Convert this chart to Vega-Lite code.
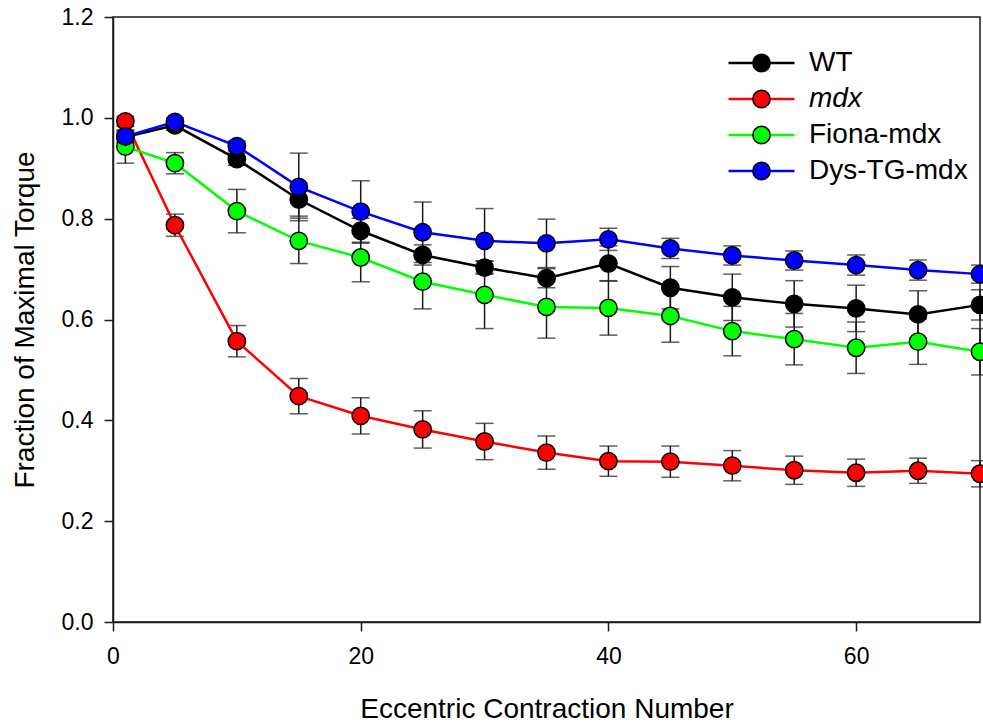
{
  "$schema": "https://vega.github.io/schema/vega-lite/v6.json",
  "width": 867,
  "height": 605,
  "autosize": {"type": "none"},
  "padding": {"left": 113, "top": 17, "right": 3, "bottom": 103},
  "background": "white",
  "config": {
    "view": {"stroke": "#1a1a1a", "strokeWidth": 1.5},
    "font": "Liberation Sans",
    "axis": {"grid": false, "domainColor": "#1a1a1a", "domainWidth": 1.5, "tickColor": "#1a1a1a", "tickWidth": 1.5, "labelColor": "black", "titleColor": "black", "labelFont": "Liberation Sans", "titleFont": "Liberation Sans", "titleFontWeight": "normal"}
  },
  "data": {"values": [
    {"x": 1, "g": "WT", "y": 0.962, "e": 0.01},
    {"x": 5, "g": "WT", "y": 0.985, "e": 0.01},
    {"x": 10, "g": "WT", "y": 0.918, "e": 0.012},
    {"x": 15, "g": "WT", "y": 0.838, "e": 0.033},
    {"x": 20, "g": "WT", "y": 0.776, "e": 0.025},
    {"x": 25, "g": "WT", "y": 0.728, "e": 0.02},
    {"x": 30, "g": "WT", "y": 0.703, "e": 0.013},
    {"x": 35, "g": "WT", "y": 0.682, "e": 0.019},
    {"x": 40, "g": "WT", "y": 0.711, "e": 0.035},
    {"x": 45, "g": "WT", "y": 0.663, "e": 0.042},
    {"x": 50, "g": "WT", "y": 0.644, "e": 0.046},
    {"x": 55, "g": "WT", "y": 0.631, "e": 0.046},
    {"x": 60, "g": "WT", "y": 0.622, "e": 0.046},
    {"x": 65, "g": "WT", "y": 0.61, "e": 0.047},
    {"x": 70, "g": "WT", "y": 0.629, "e": 0.03},
    {"x": 1, "g": "mdx", "y": 0.993, "e": 0.01},
    {"x": 5, "g": "mdx", "y": 0.787, "e": 0.022},
    {"x": 10, "g": "mdx", "y": 0.557, "e": 0.031},
    {"x": 15, "g": "mdx", "y": 0.448, "e": 0.035},
    {"x": 20, "g": "mdx", "y": 0.409, "e": 0.036},
    {"x": 25, "g": "mdx", "y": 0.382, "e": 0.037},
    {"x": 30, "g": "mdx", "y": 0.358, "e": 0.036},
    {"x": 35, "g": "mdx", "y": 0.336, "e": 0.033},
    {"x": 40, "g": "mdx", "y": 0.319, "e": 0.03},
    {"x": 45, "g": "mdx", "y": 0.318, "e": 0.031},
    {"x": 50, "g": "mdx", "y": 0.31, "e": 0.03},
    {"x": 55, "g": "mdx", "y": 0.301, "e": 0.028},
    {"x": 60, "g": "mdx", "y": 0.296, "e": 0.027},
    {"x": 65, "g": "mdx", "y": 0.3, "e": 0.025},
    {"x": 70, "g": "mdx", "y": 0.294, "e": 0.026},
    {"x": 1, "g": "Fiona-mdx", "y": 0.943, "e": 0.033},
    {"x": 5, "g": "Fiona-mdx", "y": 0.91, "e": 0.021},
    {"x": 10, "g": "Fiona-mdx", "y": 0.815, "e": 0.043},
    {"x": 15, "g": "Fiona-mdx", "y": 0.756, "e": 0.045},
    {"x": 20, "g": "Fiona-mdx", "y": 0.723, "e": 0.048},
    {"x": 25, "g": "Fiona-mdx", "y": 0.675, "e": 0.054},
    {"x": 30, "g": "Fiona-mdx", "y": 0.649, "e": 0.067},
    {"x": 35, "g": "Fiona-mdx", "y": 0.625, "e": 0.062},
    {"x": 40, "g": "Fiona-mdx", "y": 0.623, "e": 0.054},
    {"x": 45, "g": "Fiona-mdx", "y": 0.607, "e": 0.052},
    {"x": 50, "g": "Fiona-mdx", "y": 0.577, "e": 0.049},
    {"x": 55, "g": "Fiona-mdx", "y": 0.561, "e": 0.051},
    {"x": 60, "g": "Fiona-mdx", "y": 0.544, "e": 0.051},
    {"x": 65, "g": "Fiona-mdx", "y": 0.556, "e": 0.045},
    {"x": 70, "g": "Fiona-mdx", "y": 0.536, "e": 0.046},
    {"x": 1, "g": "Dys-TG-mdx", "y": 0.963, "e": 0.012},
    {"x": 5, "g": "Dys-TG-mdx", "y": 0.992, "e": 0.008},
    {"x": 10, "g": "Dys-TG-mdx", "y": 0.944, "e": 0.01},
    {"x": 15, "g": "Dys-TG-mdx", "y": 0.863, "e": 0.067},
    {"x": 20, "g": "Dys-TG-mdx", "y": 0.814, "e": 0.061},
    {"x": 25, "g": "Dys-TG-mdx", "y": 0.773, "e": 0.06},
    {"x": 30, "g": "Dys-TG-mdx", "y": 0.756, "e": 0.064},
    {"x": 35, "g": "Dys-TG-mdx", "y": 0.751, "e": 0.048},
    {"x": 40, "g": "Dys-TG-mdx", "y": 0.759, "e": 0.022},
    {"x": 45, "g": "Dys-TG-mdx", "y": 0.741, "e": 0.02},
    {"x": 50, "g": "Dys-TG-mdx", "y": 0.727, "e": 0.019},
    {"x": 55, "g": "Dys-TG-mdx", "y": 0.717, "e": 0.019},
    {"x": 60, "g": "Dys-TG-mdx", "y": 0.708, "e": 0.02},
    {"x": 65, "g": "Dys-TG-mdx", "y": 0.698, "e": 0.02},
    {"x": 70, "g": "Dys-TG-mdx", "y": 0.69, "e": 0.018}
  ]},
  "encoding": {
    "x": {"field": "x", "type": "quantitative", "scale": {"domain": [0, 70], "nice": false},
      "axis": {"title": "Eccentric Contraction Number", "titleFontSize": 28, "titlePadding": 27, "labelFontSize": 23, "labelPadding": 14, "tickSize": 9, "values": [0, 20, 40, 60], "format": "d", "labelFlush": false}},
    "y": {"field": "y", "type": "quantitative", "scale": {"domain": [0, 1.2], "nice": false},
      "axis": {"title": "Fraction of Maximal Torque", "titleFontSize": 28, "titlePadding": 22, "labelFontSize": 23, "labelPadding": 11, "tickSize": 9, "values": [0, 0.2, 0.4, 0.6, 0.8, 1.0, 1.2], "format": ".1f", "labelFlush": false}}
  },
  "layer": [
    {
      "mark": {"type": "errorbar", "color": "#1a1a1a", "ticks": {"size": 18, "thickness": 1.5}, "rule": {"strokeWidth": 1.5}},
      "encoding": {"yError": {"field": "e"}, "detail": {"field": "g"}}
    },
    {
      "mark": {"type": "line", "strokeWidth": 2.5},
      "encoding": {
        "color": {"field": "g", "type": "nominal",
          "sort": ["WT", "mdx", "Fiona-mdx", "Dys-TG-mdx"],
          "scale": {"range": ["#000000", "#ff0000", "#00ff00", "#0000ff"]},
          "legend": {"orient": "none", "legendX": 634.5, "legendY": 32, "title": null, "padding": 0,
            "symbolType": "M-3.88,0H3.88", "symbolSize": 289, "symbolStrokeWidth": 2.5,
            "labelFontSize": 28, "labelFont": "Liberation Sans", "labelColor": "black", "labelOffset": 33.5, "rowPadding": 8,
            "labelLimit": 400,
            "encode": {"labels": {"update": {"fontStyle": {"signal": "datum.value === 'mdx' ? 'italic' : 'normal'"}}}}}
        }
      }
    },
    {
      "mark": {"type": "point", "filled": true, "size": 300, "stroke": "black", "strokeWidth": 1.5, "opacity": 1},
      "encoding": {
        "fill": {"field": "g", "type": "nominal",
          "scale": {"domain": ["WT", "mdx", "Fiona-mdx", "Dys-TG-mdx"], "range": ["#000000", "#ff0000", "#00ff00", "#0000ff"]},
          "legend": {"orient": "none", "legendX": 634.5, "legendY": 32, "title": null, "padding": 0,
            "symbolType": "circle", "symbolSize": 300, "symbolStrokeColor": "black", "symbolStrokeWidth": 1.5, "symbolOpacity": 1,
            "labelFontSize": 28, "labelFont": "Liberation Sans", "labelExpr": "''", "labelOffset": 16, "rowPadding": 8, "labelLimit": 400}
        }
      }
    }
  ]
}
